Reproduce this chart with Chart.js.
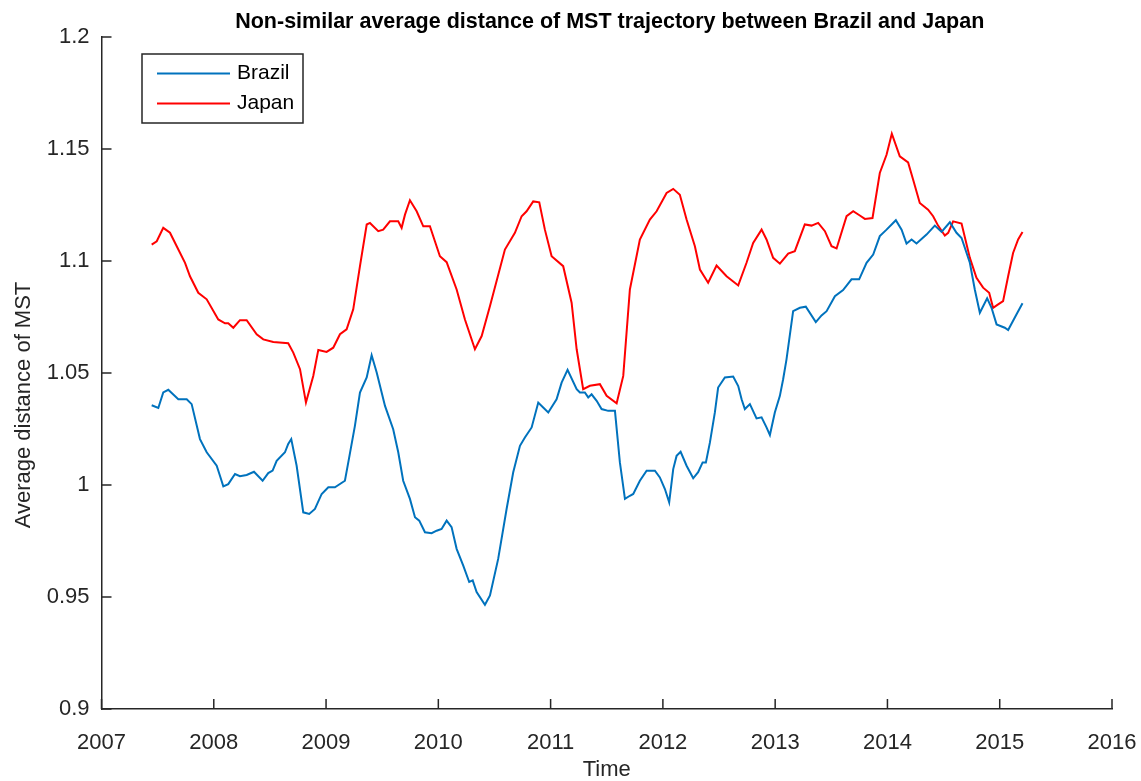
<!DOCTYPE html>
<html>
<head>
<meta charset="utf-8">
<title>Non-similar average distance of MST trajectory between Brazil and Japan</title>
<script src="https://cdn.jsdelivr.net/npm/chart.js@4.4.1/dist/chart.umd.min.js"></script>
<style>
  html, body { margin: 0; padding: 0; background: #ffffff; }
  #mstChart { display: block; }
</style>
</head>
<body>
<canvas id="mstChart" width="1141" height="781"></canvas>
<script>
// Values (decimal year -> average MST distance)
const brazilYears = [
    2007.447, 2007.506, 2007.550, 2007.595, 2007.684, 2007.759, 2007.803, 2007.877, 2007.937, 2008.026,
    2008.055, 2008.085, 2008.129, 2008.189, 2008.233, 2008.293, 2008.358, 2008.435, 2008.485, 2008.524,
    2008.560, 2008.634, 2008.663, 2008.690, 2008.738, 2008.797, 2008.850, 2008.901, 2008.961, 2009.020,
    2009.079, 2009.168, 2009.198, 2009.257, 2009.302, 2009.362, 2009.406, 2009.451, 2009.525, 2009.598,
    2009.643, 2009.687, 2009.747, 2009.792, 2009.830, 2009.881, 2009.940, 2009.985, 2010.029, 2010.074,
    2010.118, 2010.163, 2010.222, 2010.275, 2010.306, 2010.341, 2010.415, 2010.460, 2010.533, 2010.608,
    2010.667, 2010.727, 2010.771, 2010.831, 2010.890, 2010.934, 2010.979, 2011.053, 2011.098, 2011.151,
    2011.232, 2011.261, 2011.305, 2011.335, 2011.365, 2011.410, 2011.454, 2011.513, 2011.573, 2011.617,
    2011.662, 2011.706, 2011.736, 2011.795, 2011.855, 2011.929, 2011.973, 2012.018, 2012.056, 2012.092,
    2012.122, 2012.158, 2012.211, 2012.270, 2012.314, 2012.354, 2012.383, 2012.419, 2012.463, 2012.492,
    2012.552, 2012.626, 2012.671, 2012.701, 2012.730, 2012.775, 2012.834, 2012.879, 2012.923, 2012.953,
    2012.997, 2013.042, 2013.071, 2013.101, 2013.160, 2013.220, 2013.273, 2013.362, 2013.413, 2013.458,
    2013.532, 2013.605, 2013.680, 2013.748, 2013.814, 2013.873, 2013.932, 2013.992, 2014.075, 2014.126,
    2014.170, 2014.215, 2014.259, 2014.348, 2014.422, 2014.482, 2014.556, 2014.615, 2014.660, 2014.734,
    2014.778, 2014.823, 2014.888, 2014.927, 2014.972, 2015.045, 2015.075, 2015.150, 2015.203
];
const brazilValues = [
    1.0356, 1.0344, 1.0413, 1.0425, 1.0383, 1.0383, 1.0361, 1.0205, 1.0146, 1.0086,
    1.0041, 0.9994, 1.0004, 1.0049, 1.0039, 1.0045, 1.0059, 1.0019, 1.0053, 1.0064,
    1.0108, 1.0146, 1.0183, 1.0205, 1.0086, 0.9878, 0.9871, 0.9893, 0.9960, 0.9990,
    0.9990, 1.0019, 1.0101, 1.0264, 1.0413, 1.0480, 1.0579, 1.0502, 1.0353, 1.0249,
    1.0146, 1.0019, 0.9938, 0.9856, 0.9841, 0.9789, 0.9785, 0.9796, 0.9804, 0.9841,
    0.9812, 0.9715, 0.9640, 0.9567, 0.9574, 0.9522, 0.9465, 0.9507, 0.9670, 0.9893,
    1.0057, 1.0175, 1.0212, 1.0257, 1.0368, 1.0346, 1.0324, 1.0383, 1.0457, 1.0514,
    1.0428, 1.0413, 1.0413, 1.0391, 1.0405, 1.0376, 1.0339, 1.0331, 1.0331, 1.0101,
    0.9938, 0.9952, 0.9960, 1.0019, 1.0064, 1.0064, 1.0034, 0.9982, 0.9923, 1.0071,
    1.0130, 1.0148, 1.0086, 1.0030, 1.0057, 1.0101, 1.0101, 1.0190, 1.0324, 1.0435,
    1.0480, 1.0484, 1.0442, 1.0383, 1.0339, 1.0361, 1.0297, 1.0302, 1.0257, 1.0223,
    1.0324, 1.0398, 1.0472, 1.0561, 1.0776, 1.0791, 1.0796, 1.0727, 1.0757, 1.0776,
    1.0843, 1.0870, 1.0918, 1.0918, 1.0992, 1.1029, 1.1111, 1.1140, 1.1182, 1.1140,
    1.1078, 1.1096, 1.1078, 1.1118, 1.1158, 1.1130, 1.1173, 1.1126, 1.1103, 1.0992,
    1.0873, 1.0769, 1.0833, 1.0791, 1.0717, 1.0702, 1.0692, 1.0762, 1.0811
];

const japanYears = [
    2007.447, 2007.492, 2007.550, 2007.610, 2007.670, 2007.744, 2007.788, 2007.862, 2007.937, 2008.040,
    2008.100, 2008.129, 2008.174, 2008.233, 2008.293, 2008.382, 2008.441, 2008.530, 2008.663, 2008.708,
    2008.768, 2008.821, 2008.886, 2008.931, 2009.005, 2009.064, 2009.124, 2009.183, 2009.242, 2009.302,
    2009.362, 2009.391, 2009.465, 2009.509, 2009.569, 2009.643, 2009.673, 2009.703, 2009.747, 2009.807,
    2009.866, 2009.925, 2010.014, 2010.074, 2010.163, 2010.237, 2010.326, 2010.386, 2010.460, 2010.593,
    2010.682, 2010.742, 2010.786, 2010.845, 2010.899, 2010.949, 2011.009, 2011.112, 2011.187, 2011.232,
    2011.290, 2011.350, 2011.439, 2011.499, 2011.588, 2011.647, 2011.706, 2011.795, 2011.884, 2011.944,
    2012.033, 2012.092, 2012.151, 2012.211, 2012.285, 2012.330, 2012.403, 2012.478, 2012.567, 2012.671,
    2012.745, 2012.804, 2012.879, 2012.923, 2012.982, 2013.042, 2013.116, 2013.175, 2013.264, 2013.324,
    2013.383, 2013.443, 2013.502, 2013.547, 2013.636, 2013.695, 2013.754, 2013.799, 2013.867, 2013.932,
    2013.992, 2014.039, 2014.110, 2014.184, 2014.229, 2014.288, 2014.362, 2014.407, 2014.451, 2014.511,
    2014.541, 2014.585, 2014.660, 2014.734, 2014.793, 2014.852, 2014.906, 2014.941, 2014.986, 2015.030,
    2015.075, 2015.119, 2015.164, 2015.203
];
const japanValues = [
    1.1073, 1.1088, 1.1148, 1.1126, 1.1066, 1.0992, 1.0932, 1.0858, 1.0829, 1.0739,
    1.0722, 1.0722, 1.0702, 1.0736, 1.0736, 1.0673, 1.0650, 1.0638, 1.0633, 1.0591,
    1.0517, 1.0368, 1.0487, 1.0603, 1.0594, 1.0613, 1.0673, 1.0695, 1.0784, 1.0977,
    1.1163, 1.1170, 1.1133, 1.1140, 1.1177, 1.1177, 1.1148, 1.1207, 1.1271, 1.1222,
    1.1155, 1.1155, 1.1021, 1.0995, 1.0873, 1.0739, 1.0606, 1.0665, 1.0799, 1.1051,
    1.1126, 1.1200, 1.1222, 1.1266, 1.1262, 1.1140, 1.1021, 1.0977, 1.0814, 1.0606,
    1.0428, 1.0443, 1.0450, 1.0398, 1.0365, 1.0487, 1.0873, 1.1096, 1.1185, 1.1222,
    1.1304, 1.1322, 1.1296, 1.1185, 1.1066, 1.0962, 1.0903, 1.0980, 1.0932, 1.0891,
    1.0992, 1.1081, 1.1140, 1.1096, 1.1014, 1.0988, 1.1033, 1.1044, 1.1163, 1.1158,
    1.1170, 1.1133, 1.1066, 1.1056, 1.1200, 1.1222, 1.1203, 1.1188, 1.1192, 1.1393,
    1.1474, 1.1568, 1.1467, 1.1440, 1.1363, 1.1259, 1.1229, 1.1200, 1.1158, 1.1114,
    1.1126, 1.1177, 1.1167, 1.1014, 1.0925, 1.0881, 1.0858, 1.0791, 1.0806, 1.0821,
    1.0932, 1.1036, 1.1096, 1.1130
];

// Tick labels
const xTicks = [2007, 2008, 2009, 2010, 2011, 2012, 2013, 2014, 2015, 2016];
const yTicks = [0.9, 0.95, 1, 1.05, 1.1, 1.15, 1.2];

const titleText = 'Non-similar average distance of MST trajectory between Brazil and Japan';
const xLabel = 'Time';
const yLabel = 'Average distance of MST';

const axisColor = '#262626';
const fontName = '"Liberation Sans", Arial, sans-serif';

function toPoints(xs, ys) {
    return xs.map((x, i) => ({ x: x, y: ys[i] }));
}

// Draws MATLAB-like inward ticks, title, axis labels and the boxed legend
const matlabDecor = {
    id: 'matlabDecor',
    afterDraw(chart) {
        const ctx = chart.ctx;
        const area = chart.chartArea;
        const sx = chart.scales.x;
        const sy = chart.scales.y;
        const tickLen = 10;

        ctx.save();
        ctx.strokeStyle = axisColor;
        ctx.lineWidth = 1.5;
        ctx.beginPath();
        xTicks.forEach(v => {
            const px = sx.getPixelForValue(v);
            ctx.moveTo(px, area.bottom);
            ctx.lineTo(px, area.bottom - tickLen);
        });
        yTicks.forEach(v => {
            const py = sy.getPixelForValue(v);
            ctx.moveTo(area.left, py);
            ctx.lineTo(area.left + tickLen, py);
        });
        ctx.stroke();

        // title
        ctx.fillStyle = '#000000';
        ctx.font = 'bold 21.5px ' + fontName;
        ctx.textAlign = 'center';
        ctx.textBaseline = 'middle';
        ctx.fillText(titleText, (area.left + area.right) / 2 + 3, 22);

        // axis labels
        ctx.fillStyle = axisColor;
        ctx.font = '22px ' + fontName;
        ctx.fillText(xLabel, (area.left + area.right) / 2, 770);
        ctx.save();
        ctx.translate(24, 405);
        ctx.rotate(-Math.PI / 2);
        ctx.fillText(yLabel, 0, 0);
        ctx.restore();

        // legend box
        const box = { x: 142, y: 54, w: 161, h: 69 };
        ctx.fillStyle = '#ffffff';
        ctx.fillRect(box.x, box.y, box.w, box.h);
        ctx.strokeStyle = axisColor;
        ctx.lineWidth = 1.5;
        ctx.strokeRect(box.x, box.y, box.w, box.h);
        ctx.font = '21px ' + fontName;
        ctx.textAlign = 'left';
        ctx.textBaseline = 'middle';
        chart.data.datasets.forEach((ds, i) => {
            const ly = box.y + 19.5 + i * 30;
            ctx.strokeStyle = ds.borderColor;
            ctx.lineWidth = 2;
            ctx.beginPath();
            ctx.moveTo(box.x + 15, ly);
            ctx.lineTo(box.x + 88, ly);
            ctx.stroke();
            ctx.fillStyle = '#000000';
            ctx.fillText(ds.label, box.x + 95, ly);
        });
        ctx.restore();
    }
};

const ctx = document.getElementById('mstChart').getContext('2d');
const mstChart = new Chart(ctx, {
    type: 'line',
    data: {
        datasets: [{
            label: 'Brazil',
            data: toPoints(brazilYears, brazilValues),
            borderColor: '#0072BD',
            borderWidth: 2,
            pointRadius: 0,
            fill: false,
            tension: 0
        }, {
            label: 'Japan',
            data: toPoints(japanYears, japanValues),
            borderColor: '#FF0000',
            borderWidth: 2,
            pointRadius: 0,
            fill: false,
            tension: 0
        }]
    },
    options: {
        responsive: false,
        animation: false,
        devicePixelRatio: 1,
        layout: { padding: { left: 0, right: 29, top: 37, bottom: 0 } },
        plugins: {
            legend: { display: false },
            title: { display: false },
            tooltip: { enabled: false }
        },
        scales: {
            x: {
                type: 'linear',
                min: 2007,
                max: 2016,
                afterBuildTicks: s => { s.ticks = xTicks.map(v => ({ value: v })); },
                afterFit: s => { s.height = 72; },
                // invisible outer tick marks only push the labels down
                grid: { drawOnChartArea: false, drawTicks: true, tickLength: 21, tickColor: 'rgba(0,0,0,0)' },
                border: { display: true, color: axisColor, width: 1.5 },
                ticks: {
                    color: axisColor,
                    font: { family: fontName, size: 22 },
                    padding: 0,
                    maxRotation: 0,
                    autoSkip: false,
                    callback: v => String(v)
                }
            },
            y: {
                min: 0.9,
                max: 1.2,
                afterBuildTicks: s => { s.ticks = yTicks.map(v => ({ value: v })); },
                afterFit: s => { s.width = 101.5; },
                grid: { drawOnChartArea: false, drawTicks: false },
                border: { display: true, color: axisColor, width: 1.5 },
                ticks: {
                    color: axisColor,
                    font: { family: fontName, size: 22 },
                    padding: 12,
                    autoSkip: false,
                    callback: v => String(parseFloat(v.toFixed(2)))
                }
            }
        }
    },
    plugins: [matlabDecor]
});
</script>
</body>
</html>
